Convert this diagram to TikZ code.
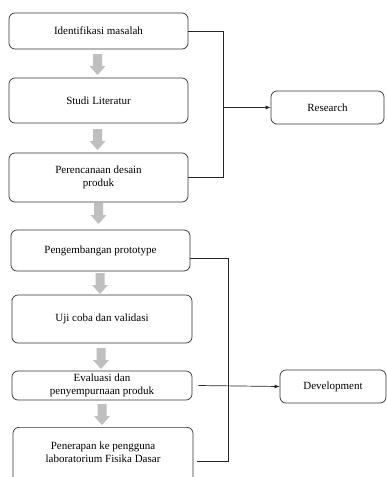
\documentclass[tikz,border=0pt]{standalone}
\usepackage{fontspec}
\setmainfont{Liberation Serif}
\usetikzlibrary{arrows.meta}
\tikzset{
  stepbox/.style={draw=black!80, line width=0.7pt, rounded corners=6pt, align=center,
    font=\fontsize{11}{13}\selectfont, inner sep=0pt},
  link/.style={draw=black!85, line width=0.7pt},
  linkarrow/.style={link, -{Latex[length=5pt,width=4pt]}},
  grayarrow/.style={fill=black!25, draw=none}
}
\newcommand{\grayarr}[2]{% x center, y top
  \fill[grayarrow] (#1-4.5,#2) -- (#1+4.5,#2) -- (#1+4.5,#2+12) -- (#1+8,#2+12)
    -- (#1,#2+21) -- (#1-8,#2+12) -- (#1-4.5,#2+12) -- cycle;}
\begin{document}
\begin{tikzpicture}[x=1pt,y=-1pt]
\useasboundingbox (0,0) rectangle (387,477);
\clip (0,0) rectangle (387,477);
\node[stepbox, minimum width=179pt, minimum height=36pt] (b1) at (98.5,31) {Identifikasi masalah};
\node[stepbox, minimum width=179pt, minimum height=45pt] (b2) at (98.5,100.5) {Studi Literatur};
\node[stepbox, minimum width=179pt, minimum height=49pt] (b3) at (98.5,177.5) {Perencanaan desain\\produk};
\node[stepbox, minimum width=179pt, minimum height=41pt] (b4) at (100.5,250.5) {Pengembangan prototype};
\node[stepbox, minimum width=180pt, minimum height=48pt] (b5) at (102,319) {Uji coba dan validasi};
\node[stepbox, minimum width=180pt, minimum height=29pt] (b6) at (102,385.5) {Evaluasi dan\\penyempurnaan produk};
\node[stepbox, minimum width=180pt, minimum height=60pt, anchor=north] (b7) at (103,427) {};
\node[font=\fontsize{11}{13}\selectfont, align=center, anchor=north] (t7) at (103,438) {Penerapan ke pengguna\\laboratorium Fisika Dasar};
\node[stepbox, minimum width=113pt, minimum height=33pt] (r) at (327.5,107.5) {Research};
\node[stepbox, minimum width=106pt, minimum height=33pt] (d) at (333,386.5) {Development};

\grayarr{97.5}{54}
\grayarr{97.5}{129}
\grayarr{98.5}{203}
\grayarr{100}{273}
\grayarr{101}{348}
\grayarr{102}{404}

\draw[link] (b1.east) -- (223,31) coordinate (rt) |- (b3.east);
\draw[linkarrow] (223,107.5) coordinate (rm) -- (r.west);
\coordinate (dt) at (228,258);
\draw[link] (b4.east |- dt) -- (dt) |- ([xshift=4pt]b7.east |- 0,461);
\draw[linkarrow] ([xshift=6pt]b6.east) -- (d.west);
\end{tikzpicture}
\end{document}
